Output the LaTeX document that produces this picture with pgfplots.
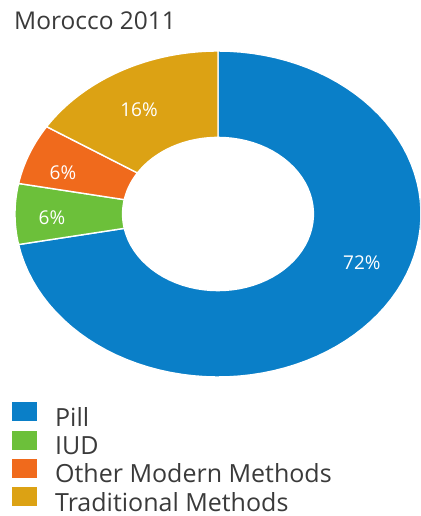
\documentclass[border=0pt]{standalone}
\usepackage{pgfplots}
\pgfplotsset{compat=1.18}
\usepackage{pgfplotstable}
\usepackage{fontspec}
\setmainfont{Open Sans}
\definecolor{cPill}{HTML}{0A7FC8}
\definecolor{cIUD}{HTML}{6CC03A}
\definecolor{cOther}{HTML}{F06A1C}
\definecolor{cTrad}{HTML}{DCA214}
\definecolor{txt}{HTML}{3A3A3A}
\colorlet{slice0}{cPill}
\colorlet{slice1}{cIUD}
\colorlet{slice2}{cOther}
\colorlet{slice3}{cTrad}
\pgfplotstableread{
method value lx ly
Pill 72 0.709 -0.300
IUD 6 -0.818 -0.025
Other 6 -0.764 0.252
Traditional 16 -0.389 0.638
}\datatable
\pgfplotsset{sq/.style={legend image code/.code={\fill[#1, draw=none] (0pt,-2pt) rectangle (25pt,17pt); \path[draw=none] (0pt,0pt) rectangle (43pt,0pt);}}}
\begin{document}
\begin{tikzpicture}
\path[use as bounding box, clip] (0,0) rectangle (420pt,-516pt);
\node[anchor=base west, inner sep=0pt, text=txt, font=\fontsize{24.5}{28}\selectfont] at (14pt,-30pt) {Morocco 2011};
\begin{axis}[
  at={(218pt,-214pt)}, anchor=origin,
  x=203pt, y=163pt,
  xmin=-1, xmax=1, ymin=-1, ymax=1,
  axis lines=none, clip=false,
  legend style={at={(axis cs:-1.0148,-1.1534)}, anchor=north west, draw=none, fill=none, inner sep=0pt,
    nodes={inner sep=0pt, text height=18pt, text depth=4pt, text=txt, font=\fontsize{25}{29}\selectfont},
    cells={anchor=west}, row sep=0.3pt},
  legend cell align=left,
]
\def\cum{0}
\pgfplotsinvokeforeach{0,1,2,3}{
  \pgfplotstablegetelem{#1}{value}\of\datatable
  \let\v\pgfplotsretval
  \pgfmathsetmacro\a{90-3.6*\cum}
  \pgfmathsetmacro\b{90-3.6*(\cum+\v)}
  \edef\temp{\noexpand\fill[slice#1, draw=white, line width=1.4pt, line join=round]
    plot[domain=\a:\b, samples=80] ({cos(\noexpand\x)},{sin(\noexpand\x)})
    -- plot[domain=\b:\a, samples=60] ({0.47*cos(\noexpand\x)},{0.47*sin(\noexpand\x)}) -- cycle;}
  \temp
  \pgfmathsetmacro\cum{\cum+\v}
  \global\let\cum\cum
}
\pgfplotsinvokeforeach{0,1,2,3}{
  \pgfplotstablegetelem{#1}{value}\of\datatable
  \let\v\pgfplotsretval
  \pgfplotstablegetelem{#1}{lx}\of\datatable
  \let\lx\pgfplotsretval
  \pgfplotstablegetelem{#1}{ly}\of\datatable
  \let\ly\pgfplotsretval
  \edef\temp{\noexpand\node[text=white, font=\noexpand\fontsize{19}{21}\noexpand\selectfont] at (axis cs:\lx,\ly) {\v\noexpand\%};}
  \temp
}
\addlegendimage{sq=cPill}
\addlegendentry{Pill}
\addlegendimage{sq=cIUD}
\addlegendentry{IUD}
\addlegendimage{sq=cOther}
\addlegendentry{Other Modern Methods}
\addlegendimage{sq=cTrad}
\addlegendentry{Traditional Methods}
\end{axis}
\end{tikzpicture}
\end{document}
